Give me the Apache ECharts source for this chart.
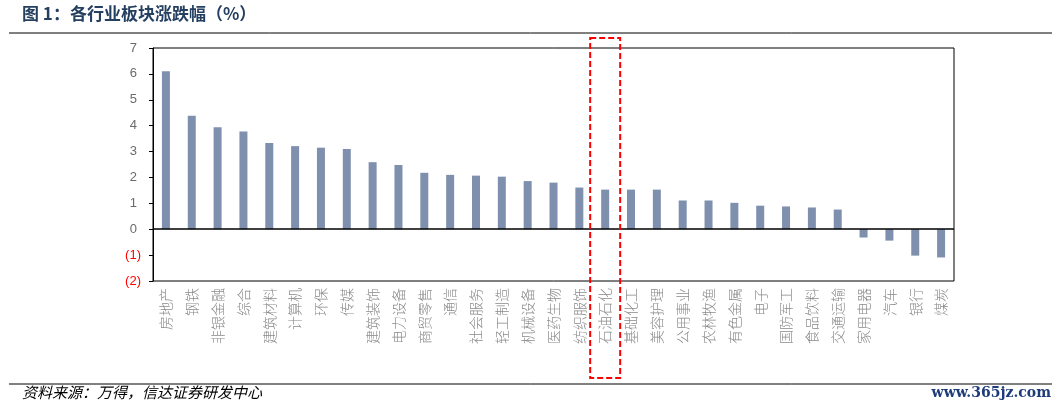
<!DOCTYPE html>
<html><head><meta charset="utf-8">
<script src="https://cdn.jsdelivr.net/npm/echarts@6/dist/echarts.min.js"></script>
<style>html,body{margin:0;padding:0;background:#fff}#c{width:1059px;height:408px}</style>
</head><body><div id="c"></div>
<script>
const titleText = '图 1：各行业板块涨跌幅（%）';
const sourceText = '资料来源：万得，信达证券研发中心';
const watermarkText = 'www.365jz.com';
const categories = ['房地产','钢铁','非银金融','综合','建筑材料','计算机','环保','传媒','建筑装饰','电力设备','商贸零售','通信','社会服务','轻工制造','机械设备','医药生物','纺织服饰','石油石化','基础化工','美容护理','公用事业','农林牧渔','有色金属','电子','国防军工','食品饮料','交通运输','家用电器','汽车','银行','煤炭'];
const values = [6.10,4.38,3.94,3.77,3.33,3.21,3.15,3.10,2.59,2.48,2.18,2.10,2.07,2.03,1.86,1.80,1.61,1.53,1.53,1.53,1.11,1.11,1.02,0.91,0.88,0.84,0.76,-0.32,-0.44,-1.02,-1.09];
const yMin = -2, yMax = 7, yStep = 1;
const highlightCategory = '石油石化';

const chart = echarts.init(document.getElementById('c'), null, {renderer:'canvas'});
const option = {
  animation: false,
  backgroundColor: '#fff',
  grid: {left:153, top:48, right:105, bottom:127, show:true, borderColor:'#000', borderWidth:1, backgroundColor:'transparent'},
  xAxis: {
    type:'category', data: categories,
    axisLine:{show:false, onZero:false}, axisTick:{show:false},
    axisLabel:{rotate:90, margin:7, fontSize:14, color:'#8a8a8a', fontFamily:'"Noto Sans CJK SC"', fontWeight:300, interval:0}
  },
  yAxis: {
    type:'value', min:yMin, max:yMax, interval:yStep,
    splitLine:{show:false},
    axisLine:{show:true, lineStyle:{color:'#000', width:1}},
    axisTick:{show:true, length:4, inside:false, lineStyle:{color:'#000'}},
    axisLabel:{
      margin:12, fontSize:13, fontFamily:'"Liberation Sans", Arial',
      formatter: v => v < 0 ? '{r|(' + Math.abs(v) + ')}' : '{p|' + v + '}',
      rich:{ p:{color:'#6b6b6b', fontSize:13, padding:[0,4,0,0]}, r:{color:'#ff0000', fontSize:13} }
    }
  },
  series: [{
    type:'bar', data: values, barWidth:8,
    itemStyle:{color:'#7f90ae'},
    markLine:{silent:true, symbol:'none', label:{show:false},
      lineStyle:{color:'#000', width:1.5, type:'solid'}, data:[{yAxis:0}]}
  }]
};
chart.setOption(option);

const hx = chart.convertToPixel({xAxisIndex:0}, highlightCategory);
chart.setOption({
  graphic: [
    {type:'text', left:22, top:5, style:{text:titleText, fill:'#243f60', font:'bold 17px "Noto Sans CJK SC"'}},
    {type:'line', shape:{x1:9, y1:33, x2:1052, y2:33}, style:{stroke:'#000', lineWidth:1}},
    {type:'line', shape:{x1:9, y1:384, x2:1052, y2:384}, style:{stroke:'#000', lineWidth:1}},
    {type:'text', left:22, top:385, style:{text:sourceText, fill:'#000', font:'italic 15px "Noto Sans CJK SC"'}},
    {type:'text', right:8, top:386, style:{text:watermarkText, fill:'#1f3c7a', font:'bold 14px "DejaVu Serif"'}},
    {type:'rect', shape:{x:hx-15, y:38, width:30, height:340}, style:{fill:'none', stroke:'#ff0000', lineWidth:2, lineDash:[6,3]}, z:100}
  ]
});
</script></body></html>
